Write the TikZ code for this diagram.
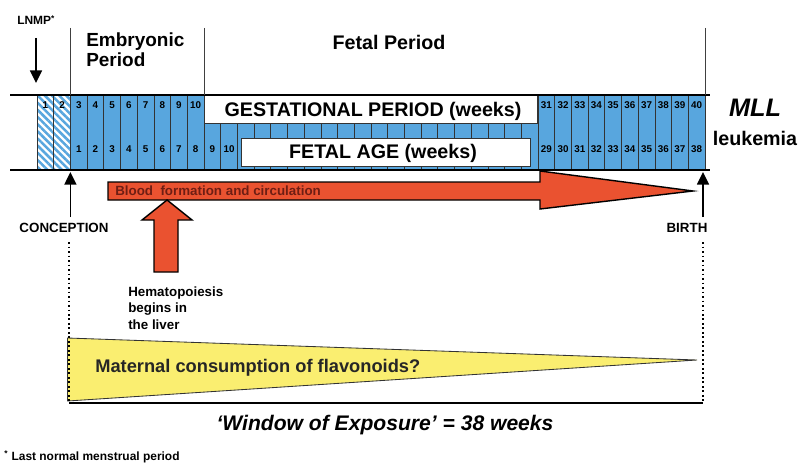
\documentclass[tikz,border=0pt]{standalone}
\usepackage{fontspec}
\setmainfont{Liberation Sans}
\usetikzlibrary{arrows.meta,patterns.meta}
\usepackage{xcolor}
\definecolor{cellblue}{RGB}{88,166,222}
\definecolor{bloodred}{RGB}{234,82,48}
\definecolor{bloodtext}{RGB}{110,30,20}
\definecolor{flavyellow}{RGB}{250,238,112}

\begin{document}
\begin{tikzpicture}[
    x=0.025cm, y=-0.025cm,
    cell/.style={draw=black!80, line width=0.5pt, fill=cellblue},
    hatchcell/.style={draw=black!80, line width=0.5pt, pattern={Lines[angle=-45,distance=3.6pt,line width=1.8pt]}, pattern color=cellblue},
    wk/.style={font=\bfseries\fontsize{7}{8}\selectfont, inner sep=0pt, anchor=base},
    heading/.style={font=\bfseries\fontsize{13.5}{14.5}\selectfont, inner sep=0pt, align=left},
    banner/.style={draw=black!80, line width=0.5pt, fill=white},
    bannertxt/.style={font=\bfseries\fontsize{14}{16}\selectfont, inner sep=0pt, anchor=base},
    smalltxt/.style={font=\bfseries\fontsize{9.5}{11.4}\selectfont, inner sep=0pt},
    axis/.style={line width=1.3pt},
    divider/.style={line width=0.6pt, black!75},
    arr/.style={line width=1.2pt, -{Triangle[width=8.5pt,length=9pt]}},
    blockarrow/.style={draw=black, line width=1pt, fill=bloodred},
]
    \useasboundingbox (0,0) rectangle (802,466);

    % week cells
    \foreach \i in {1,2}
        \draw[hatchcell] ({37+(\i-1)*16.7},95) rectangle ++(16.7,75);
    \foreach \i in {3,...,40}
        \draw[cell] ({37+(\i-1)*16.7},95) rectangle ++(16.7,75);

    \draw[banner] (204.4,95) rectangle (537,123);
    \draw[banner] (241,138) rectangle (530,166);
    \node[bannertxt] (gest) at (373,117) {GESTATIONAL PERIOD (weeks)};
    \node[bannertxt] (fage) at (383,158) {FETAL AGE (weeks)};

    % week numbers
    \foreach \i in {1,...,10}
        \node[wk] (g\i) at ({37+(\i-0.5)*16.7},109) {\i};
    \foreach \i in {31,...,40}
        \node[wk] (g\i) at ({37+(\i-0.5)*16.7},109) {\i};
    \foreach \i in {3,...,12} {
        \pgfmathtruncatemacro{\fa}{\i-2}
        \node[wk] (f\i) at ({37+(\i-0.5)*16.7},152) {\fa};
    }
    \foreach \i in {31,...,40} {
        \pgfmathtruncatemacro{\fa}{\i-2}
        \node[wk] (f\i) at ({37+(\i-0.5)*16.7},152) {\fa};
    }

    \draw[axis] (10,95) -- (710,95);
    \draw[axis] (10,170) -- (710,170);

    % periods
    \draw[divider] (70.4,28) -- (70.4,95);
    \draw[divider] (204.4,28) -- (204.4,95);
    \draw[divider] (705,28) -- (705,95);
    \node[heading, anchor=north west] (embryo) at (86,32) {Embryonic\\Period};
    \node[heading, font=\bfseries\fontsize{14}{16}\selectfont] (fetal) at (389,42) {Fetal Period};

    \node[font=\bfseries\fontsize{8.5}{10}\selectfont, inner sep=0pt, anchor=base west] (lnmp) at (17,25) {LNMP\textsuperscript{*}};
    \coordinate (lnmpFrom) at (36,38);
    \coordinate (lnmpTip) at (36,83);
    \draw[arr] (lnmpFrom) -- (lnmpTip);

    \node[font=\bfseries\itshape\fontsize{18}{20}\selectfont, inner sep=0pt, anchor=base] (mll) at (755,117) {MLL};
    \node[font=\bfseries\fontsize{14}{16}\selectfont, inner sep=0pt, anchor=base] (leuk) at (755,145) {leukemia};

    % conception and birth
    \node[smalltxt, anchor=base, outer sep=4pt] (concep) at (64,232) {CONCEPTION};
    \node[smalltxt, anchor=base, outer sep=4pt] (birth) at (687,232) {BIRTH};
    \coordinate (conTip) at (70.4,172);
    \coordinate (birTip) at (703,172);
    \draw[arr] (concep.north -| conTip) -- (conTip);
    \draw[arr] (birth.north -| birTip) -- (birTip);

    % blood formation
    \draw[blockarrow] (108,182) -- (540,182) -- (540,171) -- (693,191)
        -- (540,209) -- (540,200) -- (108,200) -- cycle;
    \node[smalltxt, text=bloodtext, anchor=base west] (blood) at (115,195) {Blood\ \ formation and circulation};
    \draw[blockarrow] (167,200) -- (192,220) -- (178,220) -- (178,272)
        -- (154,272) -- (154,220) -- (142,220) -- cycle;
    \node[smalltxt, align=left, anchor=north west] (hemato) at (128,287) {Hematopoiesis\\begins in\\the liver};

    % window of exposure
    \draw[draw=black!80, line width=0.6pt, fill=flavyellow] (67.5,338) -- (697,360) -- (67.5,401) -- cycle;
    \node[font=\bfseries\fontsize{13}{15}\selectfont, text=black!85, inner sep=0pt, anchor=base west] (matern) at (95,372) {Maternal consumption of flavonoids?};
    \coordinate (winL) at (69,242);
    \coordinate (winR) at (703,242);
    \coordinate (winLb) at (69,403);
    \coordinate (winRb) at (703,403);
    \draw[line width=1.2pt, dotted] (winL) -- (winLb);
    \draw[line width=1.2pt, dotted] (winR) -- (winRb);
    \draw[line width=1.5pt] (winLb) -- (winRb);
    \node[font=\bfseries\itshape\fontsize{15}{17}\selectfont, inner sep=0pt, anchor=base] (window) at (385,430) {`Window of Exposure' = 38 weeks};

    \node[font=\bfseries\fontsize{8.5}{10}\selectfont, inner sep=0pt, anchor=base west] (foot) at (4,460) {\textsuperscript{*} Last normal menstrual period};
\end{tikzpicture}
\end{document}
